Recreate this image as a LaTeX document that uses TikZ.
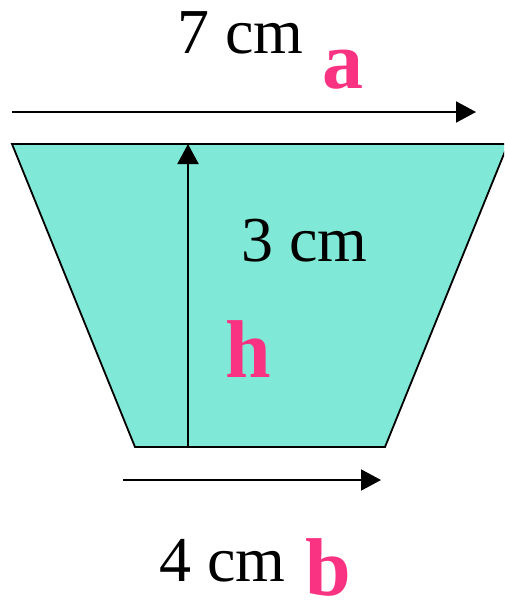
\documentclass[tikz,border=0pt]{standalone}
\usepackage{fontspec}
\setmainfont{Liberation Serif}
\usetikzlibrary{arrows.meta}
\definecolor{trapfill}{RGB}{128,232,214}
\definecolor{letterpink}{RGB}{250,50,130}

\begin{document}
\begin{tikzpicture}[x=1pt, y=-1pt,
  dimarrow/.style={line width=2pt, -{Triangle[length=20pt, width=21pt]}},
  measure/.style={inner sep=0pt, anchor=base west, text depth=0pt, font=\fontsize{64}{70}\selectfont},
  letter/.style={inner sep=0pt, anchor=base west, text depth=0pt, text=letterpink, font=\fontsize{82}{88}\selectfont\bfseries}]
  % Frame
  \useasboundingbox (0,0) rectangle (504,603);
  \clip (0,0) rectangle (504,603);

  % Trapezoid
  \coordinate (tl) at (12,144);
  \coordinate (tr) at (508,144);
  \coordinate (br) at (385,447);
  \coordinate (bl) at (135,447);
  \filldraw[fill=trapfill, draw=black, line width=1.8pt, line join=miter]
    (tl) -- (tr) -- (br) -- (bl) -- cycle;

  % Side a
  \coordinate (a start) at (12,112);
  \coordinate (a end) at (476,112);
  \draw[dimarrow] (a start) -- (a end);
  \node[measure] (a len) at (177,53) {7 cm};
  \node[letter] (a name) at (322,88) {a};

  % Height h
  \coordinate (h foot) at (188,447);
  \coordinate (h top) at (188,144);
  \draw[dimarrow] (h foot) -- (h top);
  \node[measure] (h len) at (241,261) {3 cm};
  \node[letter] (h name) at (225,377) {h};

  % Side b
  \coordinate (b start) at (123,480);
  \coordinate (b end) at (381,480);
  \draw[dimarrow] (b start) -- (b end);
  \node[measure] (b len) at (159,581) {4 cm};
  \node[letter] (b name) at (305,595) {b};
\end{tikzpicture}
\end{document}
